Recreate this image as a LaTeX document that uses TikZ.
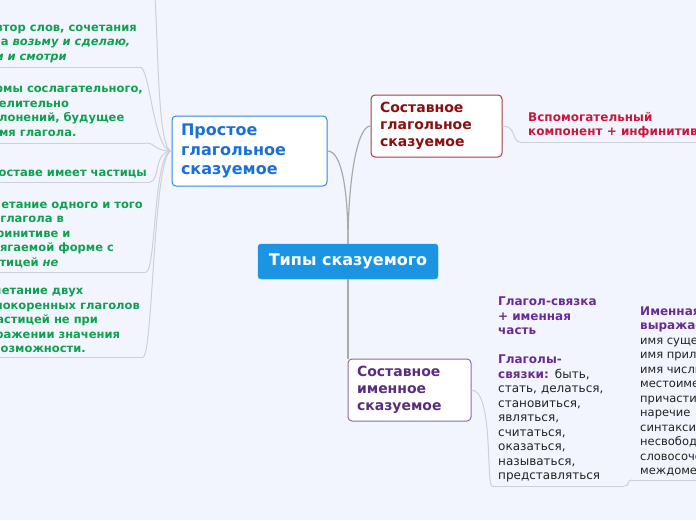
\documentclass[tikz,border=0pt]{standalone}
\usepackage{fontspec}
\setmainfont{DejaVu Sans}[BoldFont={DejaVu Sans Bold},ItalicFont={DejaVu Sans Oblique},BoldItalicFont={DejaVu Sans Bold Oblique}]
\usepackage{xcolor}
\usepackage{tikz}
\usetikzlibrary{calc,positioning}

\definecolor{fundo}{HTML}{F2F5FE}
\definecolor{azulcentro}{HTML}{1B95E3}
\definecolor{azultexto}{HTML}{1A6FDB}
\definecolor{azulborda}{HTML}{2E86EC}
\definecolor{vermtexto}{HTML}{8B1010}
\definecolor{vermborda}{HTML}{A84040}
\definecolor{roxotexto}{HTML}{5A2E7E}
\definecolor{roxoborda}{HTML}{8E6AA8}
\definecolor{folhaverde}{HTML}{10A050}
\definecolor{folhaverm}{HTML}{C8183E}
\definecolor{folharoxo}{HTML}{6A2C92}
\definecolor{linhacinza}{HTML}{AAAAAA}
\definecolor{sublinha}{HTML}{CDD0D8}
\definecolor{textopreto}{HTML}{222222}

\newcommand{\obych}[1]{{\mdseries\color{textopreto}#1}}

\begin{document}
\begin{tikzpicture}[
    x=1pt, y=-1pt,
    topico/.style={draw, fill=white, line width=1pt, rounded corners=4pt,
        align=left, inner xsep=9pt, minimum height=62pt},
    folha/.style={align=left, inner xsep=8pt, inner ysep=3.5pt,
        font=\fontsize{12}{14.5}\selectfont\bfseries},
    conexao/.style={draw=linhacinza, line width=1.2pt},
    sub/.style={draw=sublinha, line width=1pt}
]

\useasboundingbox (0,0) rectangle (696,520);
\fill[fundo] (0,0) rectangle (696,520);

%------------------------------------------------
% Topicos
%------------------------------------------------
\node[draw=azulcentro, fill=azulcentro, text=white, rounded corners=3pt,
    minimum width=180pt, minimum height=35pt,
    font=\fontsize{16}{19}\selectfont\bfseries] (tipy) at (348,261.5) {Типы сказуемого};

\node[topico, draw=azulborda, text=azultexto, text width=137pt, minimum height=70pt,
    font=\fontsize{16}{19.5}\selectfont\bfseries] (prostoe) at (249.5,151)
    {Простое\\глагольное\\сказуемое};

\node[topico, draw=vermborda, text=vermtexto, text width=113pt,
    font=\fontsize{14}{17}\selectfont\bfseries] (sostglag) at (436.5,126)
    {Составное\\глагольное\\сказуемое};

\node[topico, draw=roxoborda, text=roxotexto, text width=105pt,
    font=\fontsize{14}{17}\selectfont\bfseries] (sostimen) at (409.5,390)
    {Составное\\именное\\сказуемое};

\draw[conexao] (tipy.north) .. controls +(0,-55) and +(14,0) .. (prostoe.east);
\draw[conexao] (tipy.north) .. controls +(0,-60) and +(-14,0) .. (sostglag.west);
\draw[conexao] (tipy.south) -- (tipy.south |- sostimen.north);

%------------------------------------------------
% Simples: ramos a esquerda
%------------------------------------------------
\coordinate (acima) at (150,-30);
\draw[sub] (prostoe.west) .. controls +(-18,0) and +(10,0) .. (acima);

\foreach \nome/\xr/\yl/\txt in {
povtor/140/67/{Повтор слов, сочетания\\типа \textit{возьму и сделаю,}\\\textit{иди и смотри}},
formy/146/143/{Формы сослагательного,\\повелительно\\наклонений, будущее\\время глагола.},
chastitsy/150/182/{В составе имеет частицы},
sochet/146/272/{Сочетание одного и того\\же глагола в\\инфинитиве и\\спрягаемой форме с\\частицей \textit{не}},
odnokor/143/357/{Сочетание двух\\однокоренных глаголов\\с частицей не при\\выражении значения\\невозможности.}}
{
    \node[folha, anchor=south east, inner xsep=3pt, inner ysep=4pt, text=folhaverde,
        font=\fontsize{11.5}{14.5}\selectfont\bfseries] (\nome) at (\xr,\yl) {\txt};
    \draw[sub] (\nome.south west) -- (\nome.south east);
    \draw[sub] (prostoe.west) .. controls +(-18,0) and +(10,0) .. (\nome.south east);
}

%------------------------------------------------
% Ramos a direita
%------------------------------------------------
\node[folha, anchor=south west, text=folhaverm] (vspom) at (520,142)
    {Вспомогательный\\компонент + инфинитив};
\draw[sub] (vspom.south west) -- (vspom.south east);
\draw[sub] (sostglag.east) .. controls +(14,0) and +(-8,0) .. (vspom.south west);

\node[folha, anchor=south west, inner xsep=6pt, text width=120pt, text=folharoxo] (svyazka) at (492,486)
    {Глагол-связка\\+ именная\\часть\\[14.5pt]Глаголы-\\связки: \obych{быть,}\\\obych{стать, делаться,}\\\obych{становиться,}\\\obych{являться,}\\\obych{считаться,}\\\obych{оказаться,}\\\obych{называться,}\\\obych{представляться}};
\draw[sub] (svyazka.south west) -- (svyazka.south east);
\draw[sub] (sostimen.east) .. controls +(22,0) and +(-6,0) .. (svyazka.south west);

\node[folha, anchor=south west, text=textopreto, font=\fontsize{11.5}{14.5}\selectfont] (imennaya) at (632,480)
    {\textbf{\color{folharoxo}\fontsize{12}{14.5}\selectfont Именная часть}\\\textbf{\color{folharoxo}\fontsize{12}{14.5}\selectfont выражается:}\\имя существительное\\имя прилагательное\\имя числительное\\местоимение\\причастие\\наречие\\синтаксически\\несвободное\\словосочетание\\междометие};
\draw[sub] (imennaya.south west) -- (imennaya.south east);
\draw[sub] (svyazka.south east) .. controls +(6,0) and +(-6,0) .. (imennaya.south west);

\end{tikzpicture}
\end{document}
